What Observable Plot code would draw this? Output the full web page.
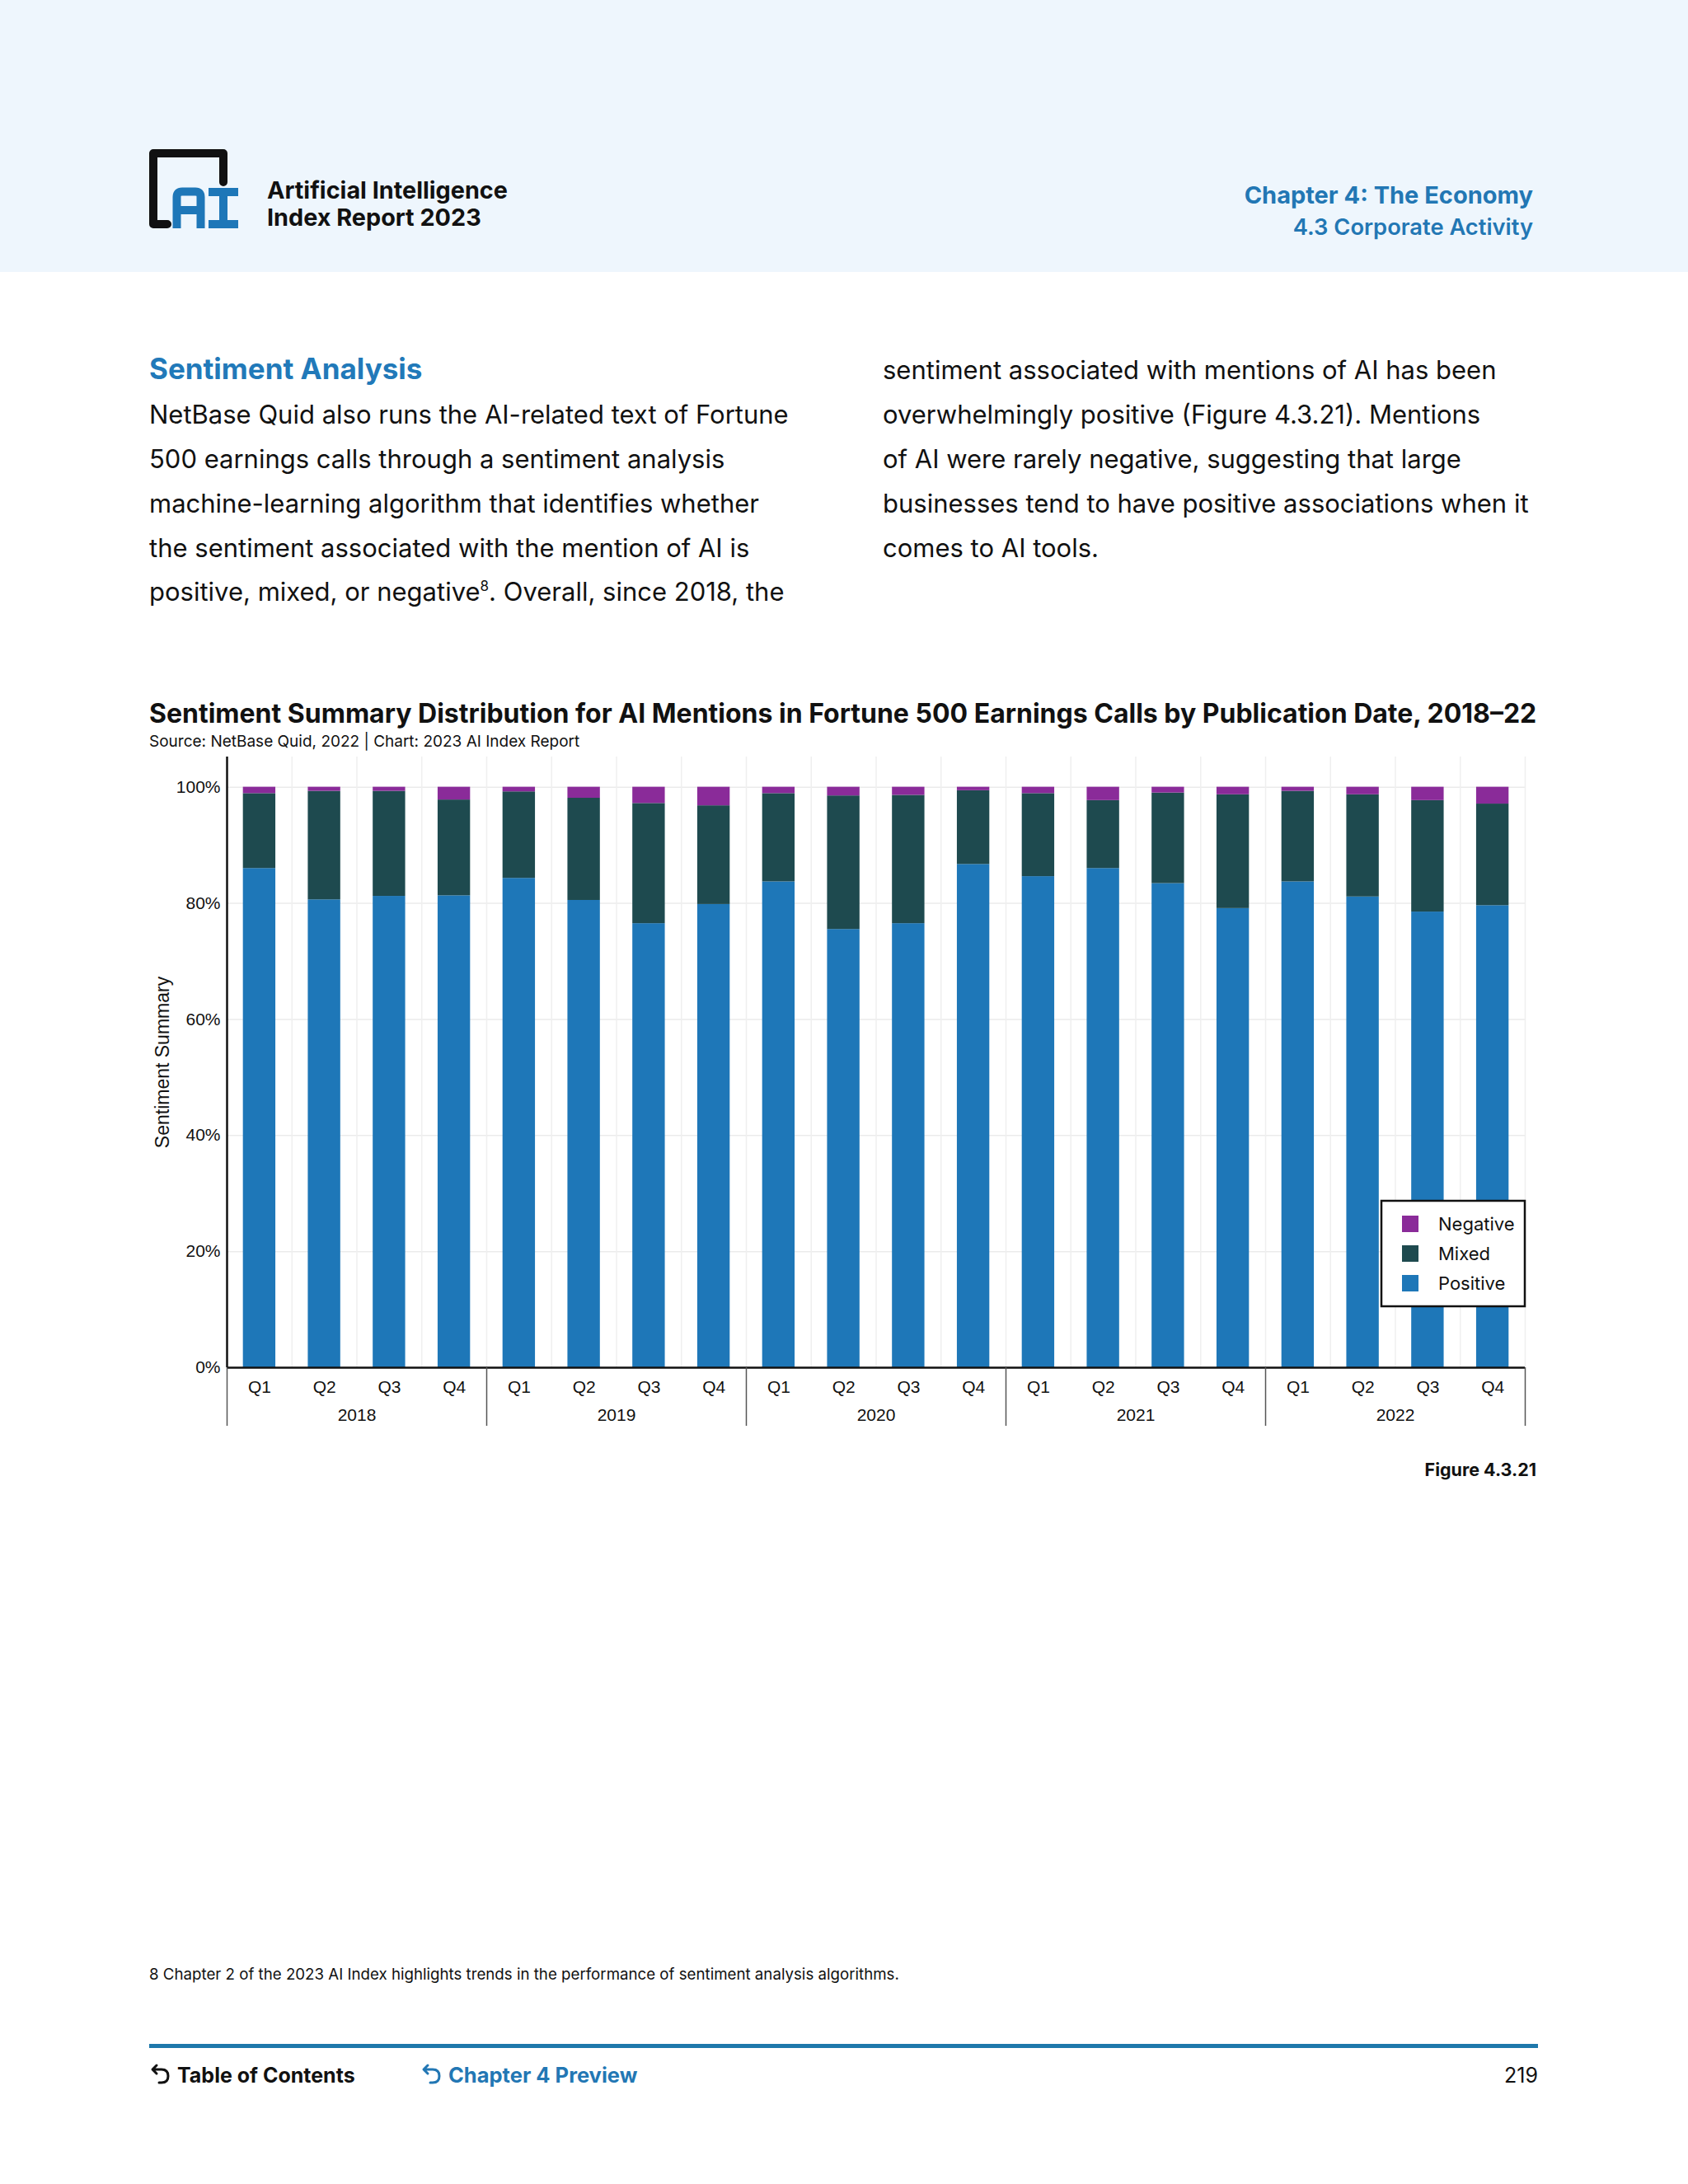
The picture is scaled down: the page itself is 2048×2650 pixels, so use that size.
<!DOCTYPE html>
<html><head><meta charset="utf-8">
<script src="https://cdn.jsdelivr.net/npm/d3@7"></script>
<script src="https://cdn.jsdelivr.net/npm/@observablehq/plot@0.6"></script>
<style>
html,body{margin:0;padding:0;background:#fff;}
#page{position:relative;width:2048px;height:2650px;overflow:hidden;background:#fff;}
#page > svg{position:absolute;left:0;top:0;}
#chart{position:absolute;left:0;top:900px;}
#legend{position:absolute;left:0;top:0;z-index:3;}
</style></head>
<body>
<div id="page">
<svg id="bg" width="2048" height="2650" font-family="Inter, Lato, 'Open Sans', sans-serif">
  <rect x="0" y="0" width="2048" height="330" fill="#eef6fd"/>
  <path d="M203 272 L186 272 L186 186 L271 186 L271 221" fill="none" stroke="#111" stroke-width="10" stroke-linejoin="round" stroke-linecap="round"/>
  <path d="M214.5 277 L214.5 239 Q214.5 232.5 221 232.5 L237 232.5 Q243.5 232.5 243.5 239 L243.5 277 M214.5 255 L243.5 255" fill="none" stroke="#1e77b8" stroke-width="10"/>
  <path d="M253 233 L289 233 M253 272 L289 272 M271 233 L271 272" fill="none" stroke="#1e77b8" stroke-width="10"/>
  <text x="324" y="241" font-size="28.8" font-weight="700" fill="#111">Artificial Intelligence</text>
  <text x="324" y="274" font-size="28.8" font-weight="700" fill="#111">Index Report 2023</text>
  <text x="1860" y="247" font-size="29" font-weight="700" fill="#2277b4" text-anchor="end">Chapter 4: The Economy</text>
  <text x="1860" y="285" font-size="27.3" font-weight="600" fill="#2277b4" text-anchor="end">4.3 Corporate Activity</text>
  <text x="181" y="460" font-size="35" font-weight="700" fill="#2179b9">Sentiment Analysis</text>
  <g font-size="31" fill="#111">
    <text x="181" y="514">NetBase Quid also runs the AI-related text of Fortune</text>
    <text x="181" y="568">500 earnings calls through a sentiment analysis</text>
    <text x="181" y="622">machine-learning algorithm that identifies whether</text>
    <text x="181" y="676">the sentiment associated with the mention of AI is</text>
    <text x="181" y="729">positive, mixed, or negative<tspan font-size="17" dy="-12">8</tspan><tspan dy="12">. Overall, since 2018, the</tspan></text>
    <text x="1071" y="460">sentiment associated with mentions of AI has been</text>
    <text x="1071" y="514">overwhelmingly positive (Figure 4.3.21). Mentions</text>
    <text x="1071" y="568">of AI were rarely negative, suggesting that large</text>
    <text x="1071" y="622">businesses tend to have positive associations when it</text>
    <text x="1071" y="676">comes to AI tools.</text>
  </g>
  <text x="181" y="877" font-size="32" font-weight="700" fill="#111">Sentiment Summary Distribution for AI Mentions in Fortune 500 Earnings Calls by Publication Date, 2018–22</text>
  <text x="181" y="906" font-size="19" fill="#111">Source: NetBase Quid, 2022 | Chart: 2023 AI Index Report</text>
  <text x="1864" y="1791" font-size="21.5" font-weight="700" fill="#111" text-anchor="end">Figure 4.3.21</text>
  <text x="181" y="2402" font-size="18.7" fill="#111">8 Chapter 2 of the 2023 AI Index highlights trends in the performance of sentiment analysis algorithms.</text>
  <rect x="181" y="2480" width="1685" height="5" fill="#1e78ab"/>
  <path d="M186 2511 L196 2511 Q204 2511 204 2519 Q204 2527 196 2527 L193 2527 M190 2506 L185 2511 L190 2516" fill="none" stroke="#111" stroke-width="3" stroke-linecap="round" stroke-linejoin="round"/>
  <text x="215" y="2527" font-size="25" font-weight="700" fill="#111">Table of Contents</text>
  <path d="M515 2511 L525 2511 Q533 2511 533 2519 Q533 2527 525 2527 L522 2527 M519 2506 L514 2511 L519 2516" fill="none" stroke="#2277b4" stroke-width="3" stroke-linecap="round" stroke-linejoin="round"/>
  <text x="544" y="2527" font-size="25.5" font-weight="700" fill="#2277b4">Chapter 4 Preview</text>
  <text x="1866" y="2527" font-size="25" fill="#111" text-anchor="end">219</text>
</svg>
<div id="chart"></div>
<svg id="legend" width="2048" height="2650" font-family="Inter, Lato, 'Open Sans', sans-serif"></svg>
</div>
<script>
// ---- data ----
const years = ["2018", "2019", "2020", "2021", "2022"];
const quarters = ["Q1", "Q2", "Q3", "Q4"];
const sentiments = ["Negative", "Mixed", "Positive"];          // legend order (top to bottom)
const stackOrder = ["Positive", "Mixed", "Negative"];          // bottom to top
const sentimentColors = ["#8a2b99", "#1e4a4f", "#1e77b8"];
const positive = [86.0, 80.6, 81.2, 81.3, 84.3, 80.5, 76.5, 79.8, 83.7, 75.5, 76.5, 86.7, 84.6, 86.0, 83.4, 79.1, 83.7, 81.1, 78.5, 79.6];
const mixed    = [12.9, 18.7, 18.1, 16.5, 14.9, 17.6, 20.7, 17.0, 15.2, 23.0, 22.1, 12.7, 14.3, 11.7, 15.6, 19.6, 15.6, 17.6, 19.2, 17.5];
const negative = [1.1, 0.7, 0.7, 2.2, 0.8, 1.9, 2.8, 3.2, 1.1, 1.5, 1.4, 0.6, 1.1, 2.3, 1.0, 1.3, 0.7, 1.3, 2.3, 2.9];
const yTicks = [0, 20, 40, 60, 80, 100];
const yLabel = "Sentiment Summary";

// ---- table ----
const nQ = quarters.length;
const nSlots = years.length * nQ;
const rows = [];
years.forEach((yr, yi) => quarters.forEach((q, qi) => {
  const i = yi * nQ + qi;
  const vals = {Positive: positive[i], Mixed: mixed[i], Negative: negative[i]};
  stackOrder.forEach(s => rows.push({slot: i, x1: i + 0.25, x2: i + 0.75, year: yr, quarter: q, sentiment: s, value: vals[s]}));
}));
const slotBounds = d3.range(0, nSlots + 1);
const quarterCenters = d3.range(nSlots).map(i => i + 0.5);
const yearCenters = years.map((_, yi) => yi * nQ + nQ / 2);
const yearBounds = d3.range(0, years.length + 1).map(k => k * nQ);

const chart = Plot.plot({
  width: 2048,
  height: 850,
  marginLeft: 275,
  marginRight: 198,
  marginTop: 18,
  marginBottom: 91,
  style: {fontFamily: "'Liberation Sans', Arial, sans-serif", fontSize: "21px", color: "#111", background: "transparent", overflow: "visible"},
  x: {type: "linear", domain: [0, nSlots]},
  y: {domain: [0, 105.2]},
  color: {domain: sentiments, range: sentimentColors},
  marks: [
    Plot.ruleY(yTicks, {stroke: "#ebebeb", strokeWidth: 1.5}),
    Plot.ruleX(slotBounds, {stroke: "#efefef", strokeWidth: 1.5}),
    Plot.rectY(rows, {x1: "x1", x2: "x2", y: "value", fill: "sentiment", order: stackOrder}),
    Plot.ruleY([0], {stroke: "#111", strokeWidth: 2.5}),
    Plot.ruleX([0], {stroke: "#111", strokeWidth: 2.5}),
    Plot.axisY(yTicks, {anchor: "left", tickSize: 0, tickPadding: 8, tickFormat: d => d + "%", label: null, fontSize: 21}),
    Plot.axisX(quarterCenters, {anchor: "bottom", tickSize: 0, tickPadding: 16, tickFormat: v => quarters[Math.floor(v) % nQ], label: null, fontSize: 21}),
    Plot.axisX(yearCenters, {anchor: "bottom", tickSize: 0, tickPadding: 50, tickFormat: v => years[Math.round((v - nQ / 2) / nQ)], label: null, fontSize: 21}),
    Plot.axisX(yearBounds, {anchor: "bottom", tickSize: 71, tickFormat: () => "", stroke: "#555", strokeWidth: 1.5, label: null}),
    Plot.text([yLabel], {frameAnchor: "left", textAnchor: "middle", rotate: -90, dx: -78, fontSize: 23, fill: "#111"})
  ]
});
document.getElementById("chart").appendChild(chart);

// ---- legend ----
const lg = d3.select("#legend");
lg.append("rect").attr("x", 1676).attr("y", 1457).attr("width", 174).attr("height", 128)
  .attr("fill", "#fff").attr("stroke", "#111").attr("stroke-width", 2.5);
const color = chart.scale("color");
sentiments.forEach((s, k) => {
  const cy = 1485 + k * 36;
  lg.append("rect").attr("x", 1701).attr("y", cy - 10).attr("width", 20).attr("height", 20).attr("fill", color.apply(s));
  lg.append("text").attr("x", 1745).attr("y", cy + 8).attr("font-size", 22).attr("fill", "#111").text(s);
});
</script>
</body></html>
